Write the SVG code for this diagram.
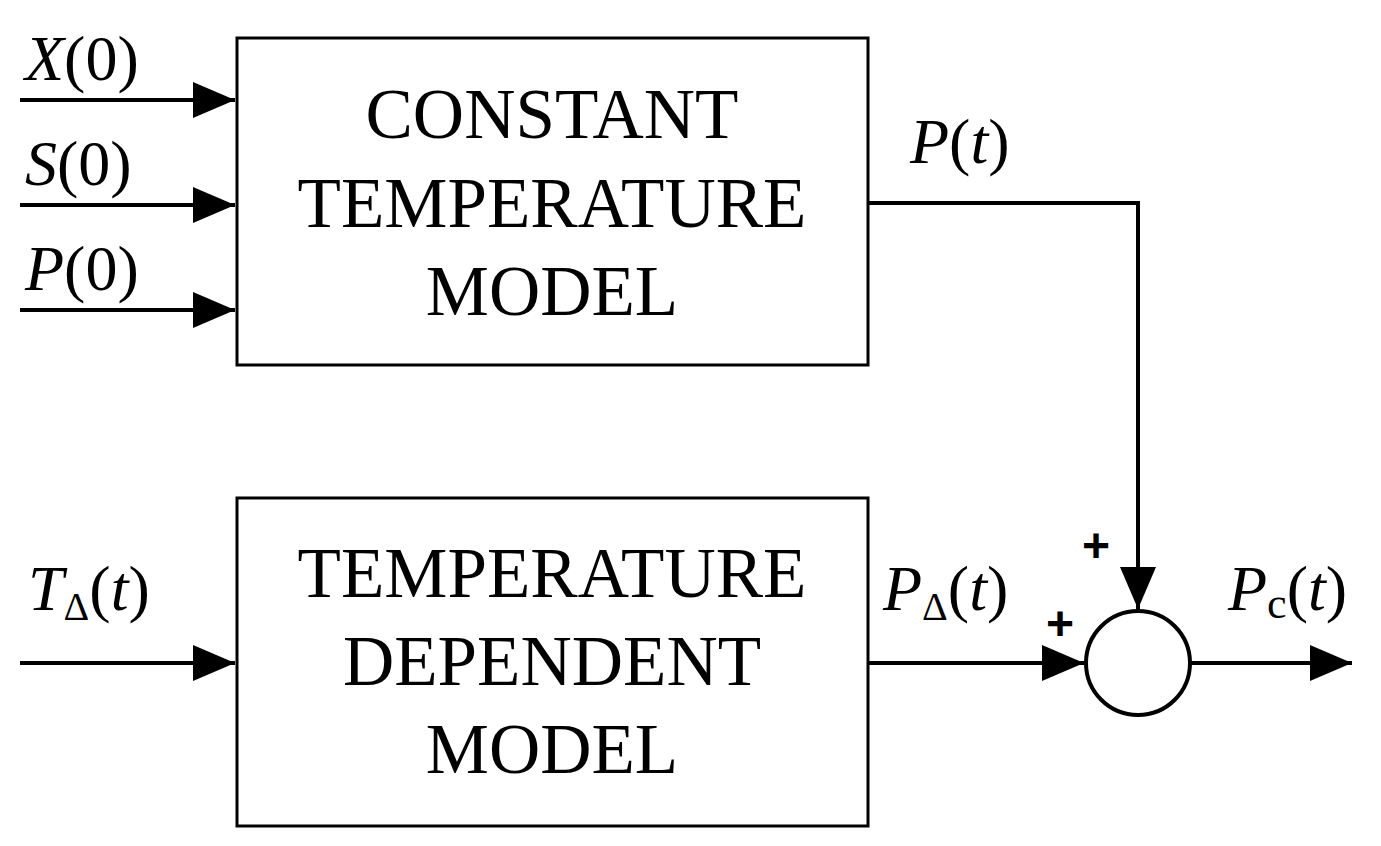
<svg xmlns="http://www.w3.org/2000/svg" width="1381" height="846" viewBox="0 0 1381 846">
<style>
.b{fill:#fff;stroke:#000;stroke-width:3}
.l{fill:none;stroke:#000;stroke-width:4}
.t{font-family:"Liberation Serif",serif;font-size:71px;text-anchor:middle;fill:#000}
.v{font-family:"Liberation Serif",serif;font-size:64px;fill:#000}
.p{font-family:"Liberation Sans",sans-serif;font-size:48px;font-weight:bold;fill:#000}
</style>
<defs>
<marker id="m" viewBox="0 0 42 36" refX="42" refY="18" markerWidth="42" markerHeight="36" markerUnits="userSpaceOnUse" orient="auto">
<path d="M0,0 L42,18 L0,36 Z"/>
</marker>
</defs>
<rect width="1381" height="846" fill="#fff"/>
<g id="connectors">
<path class="l" d="M20,100 H235" marker-end="url(#m)"/>
<path class="l" d="M20,205 H235" marker-end="url(#m)"/>
<path class="l" d="M20,310 H235" marker-end="url(#m)"/>
<path class="l" d="M20,663 H235" marker-end="url(#m)"/>
<path class="l" d="M868,203 H1138 V609" marker-end="url(#m)"/>
<path class="l" d="M868,663 H1084" marker-end="url(#m)"/>
<path class="l" d="M1190,663 H1352" marker-end="url(#m)"/>
</g>
<g id="constant">
<rect class="b" x="237" y="38" width="631" height="327"/>
<text class="t" x="552" y="138">CONSTANT</text>
<text class="t" x="552" y="227">TEMPERATURE</text>
<text class="t" x="552" y="315">MODEL</text>
</g>
<g id="dependent">
<rect class="b" x="237" y="498" width="631" height="328"/>
<text class="t" x="552" y="597">TEMPERATURE</text>
<text class="t" x="552" y="685">DEPENDENT</text>
<text class="t" x="552" y="773">MODEL</text>
</g>
<g id="sum">
<circle cx="1138" cy="663" r="52" fill="#fff" stroke="#000" stroke-width="4"/>
<text class="p" x="1082" y="562">+</text>
<text class="p" x="1046" y="640">+</text>
</g>
<g id="labels">
<text class="v" x="25" y="80"><tspan font-style="italic">X</tspan>(0)</text>
<text class="v" x="25" y="185"><tspan font-style="italic">S</tspan>(0)</text>
<text class="v" x="25" y="290"><tspan font-style="italic">P</tspan>(0)</text>
<text class="v" x="910" y="163"><tspan font-style="italic">P</tspan>(<tspan font-style="italic">t</tspan>)</text>
<text class="v" x="28" y="610"><tspan font-style="italic">T</tspan><tspan font-size="40" dy="10">Δ</tspan><tspan dy="-10">(</tspan><tspan font-style="italic">t</tspan>)</text>
<text class="v" x="883" y="610"><tspan font-style="italic">P</tspan><tspan font-size="40" dy="10">Δ</tspan><tspan dy="-10">(</tspan><tspan font-style="italic">t</tspan>)</text>
<text class="v" x="1228" y="610"><tspan font-style="italic">P</tspan><tspan font-size="44" dy="8">c</tspan><tspan dy="-8">(</tspan><tspan font-style="italic">t</tspan>)</text>
</g>
</svg>
